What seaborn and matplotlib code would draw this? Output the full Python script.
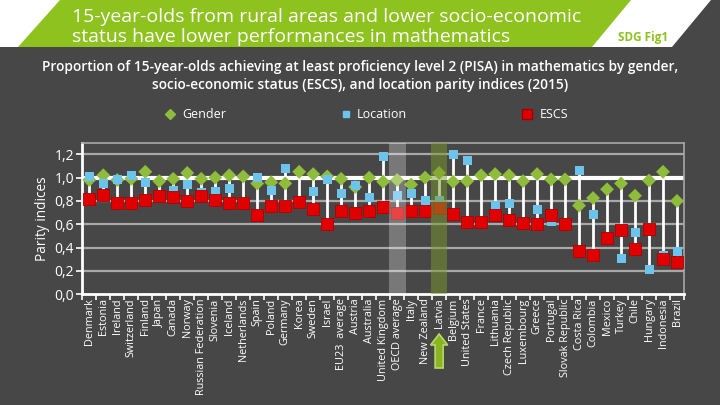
import numpy as np
import pandas as pd
import matplotlib
matplotlib.use("Agg")
import matplotlib.pyplot as plt
import seaborn as sns
from matplotlib.patches import Polygon, FancyArrow
from matplotlib.lines import Line2D
from matplotlib.ticker import FuncFormatter, FixedLocator
from matplotlib.transforms import IdentityTransform

countries = ["Denmark", "Estonia", "Ireland", "Switzerland", "Finland", "Japan", "Canada",
             "Norway", "Russian Federation", "Slovenia", "Iceland", "Netherlands", "Spain",
             "Poland", "Germany", "Korea", "Sweden", "Israel", "EU23  average", "Austria",
             "Australia", "United Kingdom", "OECD average", "Italy", "New Zealand", "Latvia",
             "Belgium", "United States", "France", "Lithuania", "Czech Republic", "Luxembourg",
             "Greece", "Portugal", "Slovak Republic", "Costa Rica", "Colombia", "Mexico",
             "Turkey", "Chile", "Hungary", "Indonesia", "Brazil"]

gender = [0.98, 1.02, 0.98, 0.99, 1.05, 0.97, 0.99, 1.04, 0.99, 1.00, 1.02, 1.01, 0.95,
          0.96, 0.95, 1.05, 1.03, 1.01, 0.99, 0.92, 1.00, 0.965, 0.98, 0.94, 1.00, 1.04,
          0.965, 0.97, 1.02, 1.03, 1.02, 0.97, 1.03, 0.985, 0.985, 0.76, 0.825, 0.90,
          0.95, 0.845, 0.975, 1.05, 0.80]

location = [1.01, 0.95, 0.98, 1.02, 0.96, np.nan, 0.89, 0.94, 0.87, 0.88, 0.91, np.nan, 1.00,
            0.89, 1.08, np.nan, 0.885, 0.98, 0.86, 0.93, 0.83, 1.18, 0.845, 0.86, 0.80, 0.80,
            1.20, 1.15, np.nan, 0.76, 0.78, np.nan, 0.725, 0.62, np.nan, 1.06, 0.68, np.nan,
            0.31, 0.53, 0.21, 0.33, 0.365]

escs = [0.82, 0.85, 0.78, 0.78, 0.81, 0.84, 0.83, 0.80, 0.84, 0.81, 0.78, 0.78, 0.68,
        0.76, 0.76, 0.79, 0.73, 0.60, 0.71, 0.70, 0.71, 0.75, 0.70, 0.71, 0.71, 0.74,
        0.69, 0.62, 0.62, 0.68, 0.64, 0.61, 0.605, 0.68, 0.605, 0.375, 0.34, 0.485,
        0.55, 0.39, 0.56, 0.30, 0.28]

y_ticks = [0.0, 0.2, 0.4, 0.6, 0.8, 1.0, 1.2]
highlight_grey = "OECD average"
highlight_green = "Latvia"

title_lines = "15-year-olds from rural areas and lower socio-economic\nstatus have lower performances in mathematics"
subtitle = ("Proportion of 15-year-olds achieving at least proficiency level 2 (PISA) in mathematics by gender,\n"
            "socio-economic status (ESCS), and location parity indices (2015)")

BG = "#474747"
GREEN = "#8FBC3A"
BLUE = "#6CC4EC"
RED = "#E00000"
BANNER = "#8DC21F"

sns.set_theme(style="dark")
plt.rcParams["font.family"] = ["Open Sans", "DejaVu Sans"]

df = pd.DataFrame({"country": countries, "Gender": gender, "Location": location, "ESCS": escs})
df["lo"] = df[["Gender", "Location", "ESCS"]].min(axis=1)
df["hi"] = df[["Gender", "Location", "ESCS"]].max(axis=1)

W, H = 720, 405
fig = plt.figure(figsize=(7.2, 4.05), dpi=100, facecolor=BG)

# banner
def fp(x, y):
    return (x / W, 1 - y / H)

fig.patches.append(Polygon([fp(0, 0), fp(720, 0), fp(720, 47), fp(0, 47)], closed=True,
                           transform=fig.transFigure, facecolor="white", edgecolor="none", zorder=0))
fig.patches.append(Polygon([fp(60, 0), fp(631, 0), fp(592, 47), fp(18, 47)], closed=True,
                           transform=fig.transFigure, facecolor=BANNER, edgecolor="none", zorder=1))
fig.patches.append(Polygon([fp(711, 0), fp(720, 0), fp(720, 47), fp(672, 47)], closed=True,
                           transform=fig.transFigure, facecolor=BG, edgecolor="none", zorder=1))
fig.text(72 / W, 1 - 27 / H, title_lines, color="white", fontsize=14, ha="left", va="center",
         linespacing=1.12)
fig.text(643 / W, 1 - 37 / H, "SDG Fig1", color=BANNER, fontsize=8.5, ha="center", va="center",
         fontweight="bold")
fig.text(360 / W, 1 - 76 / H, subtitle, color="white", fontsize=9.9, ha="center", va="center",
         linespacing=1.4, fontweight="semibold")

# legend
leg_y = 1 - 114 / H
fig.add_artist(Line2D([170 / W], [leg_y], marker="D", color=GREEN, markersize=5.5, linestyle="none",
                      transform=fig.transFigure))
fig.text(182 / W, leg_y, "Gender", color="white", fontsize=9, va="center")
fig.add_artist(Line2D([346 / W], [leg_y], marker="s", color=BLUE, markersize=4.5, linestyle="none",
                      transform=fig.transFigure))
fig.text(357 / W, leg_y, "Location", color="white", fontsize=9, va="center")
fig.add_artist(Line2D([527 / W], [leg_y], marker="s", color=RED, markeredgecolor="#A00000",
                      markersize=7, linestyle="none", transform=fig.transFigure))
fig.text(540 / W, leg_y, "ESCS", color="white", fontsize=9, va="center")

# axes
ax = fig.add_axes([82.3 / W, 1 - 294.3 / H, (684 - 82.3) / W, (294.3 - 142.6) / H])
ax.set_facecolor(BG)
n = len(countries)
xs = np.arange(n)

for v in y_ticks:
    if v == 1.0:
        ax.axhline(v, color="white", lw=3, zorder=2)
    elif v > 0:
        ax.axhline(v, color="#A8A8A8", lw=1.6, zorder=1)

ax.vlines(xs, df["lo"], df["hi"], color="white", lw=2, zorder=3)

sns.scatterplot(data=df, x=xs, y="Gender", marker="D", s=50, color=GREEN, edgecolor="none",
                ax=ax, zorder=4, legend=False)
sns.scatterplot(data=df, x=xs, y="Location", marker="s", s=42, color=BLUE, edgecolor="none",
                ax=ax, zorder=5, legend=False)
sns.scatterplot(data=df, x=xs, y="ESCS", marker="s", s=66, color=RED, edgecolor="#B00000",
                linewidth=0.6, ax=ax, zorder=6, legend=False)

gi = countries.index(highlight_grey)
li = countries.index(highlight_green)
ax.axvspan(gi - 0.6, gi + 0.6, color="white", alpha=0.27, lw=0, zorder=7)
ax.axvspan(li - 0.57, li + 0.57, color="#7A9A2A", alpha=0.5, lw=0, zorder=7)

ax.set_xlim(-0.5, n - 0.5)
ax.set_ylim(0, 1.3)
ax.set_yticks(y_ticks)
ax.yaxis.set_major_formatter(FuncFormatter(lambda v, p: f"{v:.1f}".replace(".", ",")))
ax.set_xticks(xs)
ax.set_xticklabels(countries, rotation=90, fontsize=7.8, color="white")
ax.xaxis.set_minor_locator(FixedLocator(np.arange(n + 1) - 0.5))
ax.tick_params(axis="x", which="major", length=0, pad=3)
ax.tick_params(axis="x", which="minor", length=4, width=1.2, color="white", direction="out", bottom=True)
ax.tick_params(axis="y", which="major", length=4, width=1.2, color="white", labelcolor="white",
               labelsize=10, left=True, pad=2)
ax.set_xlabel("")
ax.set_ylabel("Parity indices", color="white", fontsize=9.8, labelpad=3)
ax.grid(False)
for side in ["left", "bottom"]:
    ax.spines[side].set_color("white")
    ax.spines[side].set_linewidth(2)
    ax.spines[side].set_visible(True)
for side in ["top", "right"]:
    ax.spines[side].set_color("#A8A8A8")
    ax.spines[side].set_linewidth(1.2)
    ax.spines[side].set_visible(True)

# green arrow under Latvia
fig.canvas.draw()
px = ax.transData.transform((li, 0))[0]
fig.patches.append(FancyArrow(px, H - 368, 0, 34, width=8, head_width=17, head_length=11,
                              length_includes_head=True, transform=IdentityTransform(),
                              facecolor="#8AB521", edgecolor="#B5D86A", lw=1.2, zorder=10))

fig.savefig("out.png", dpi=100, facecolor=BG)
